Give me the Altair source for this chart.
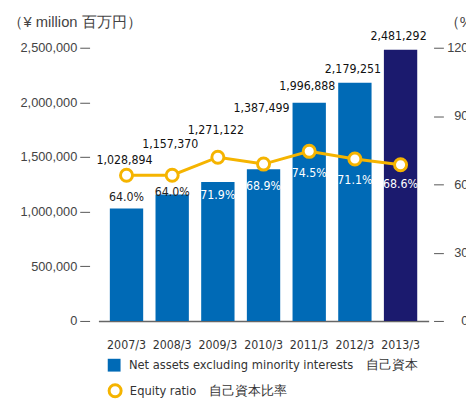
import altair as alt
import pandas as pd

# ---- data ----
years = ["2007/3", "2008/3", "2009/3", "2010/3", "2011/3", "2012/3", "2013/3"]
net_assets = [1028894, 1157370, 1271122, 1387499, 1996888, 2179251, 2481292]
equity_ratio = [64.0, 64.0, 71.9, 68.9, 74.5, 71.1, 68.6]

NA_NAME = "Net assets excluding minority interests\u3000自己資本"
EQ_NAME = "Equity ratio\u3000自己資本比率"
LATEST = "latest"

# ---- layout / style ----
W, H = 336, 278
LEFT_MAX, RIGHT_MAX = 2500000, 120
value_gap_px = [15, 32, 28, 57, 17, 14, 14]   # label lift above bar/point
pct_drop_px = [22, 17, 38, 22, 22, 21, 20]    # pct label drop below point
BLUE, NAVY, GOLD = "#006AB6", "#1B1A6E", "#F5B400"
FONT_AX = "Liberation Sans, Arial, sans-serif"
FONT_N = "DejaVu Sans Condensed, sans-serif"

df = pd.DataFrame({
    "year": years,
    "net": net_assets,
    "ratio": equity_ratio,
    "idx": list(range(len(years))),
    "kind": [NA_NAME] * (len(years) - 1) + [LATEST],
    "eq": [EQ_NAME] * len(years),
    "gap": value_gap_px,
    "drop": pct_drop_px,
})

lpx = LEFT_MAX / H
rpx = RIGHT_MAX / H

base = alt.Chart(df).transform_calculate(
    anchor=f"max(datum.net, datum.ratio / {RIGHT_MAX} * {LEFT_MAX})",
).transform_calculate(
    label_y=f"datum.anchor + datum.gap * {lpx}",
    pct_y=f"datum.ratio - datum.drop * {rpx}",
    net_txt="format(datum.net, ',')",
    pct_txt="format(datum.ratio, '.1f') + '%'",
)

x_enc = alt.X(
    "year:N", sort=years, title=None,
    scale=alt.Scale(paddingInner=0.27, paddingOuter=0.25),
    axis=alt.Axis(labelAngle=0, ticks=False, domainColor="#666", domainWidth=1.5,
                  labelPadding=18, labelFontSize=12.5, labelFont=FONT_N, labelColor="#333"),
)

left_axis = alt.Axis(
    orient="left", offset=9, domain=False, grid=False, tickSize=10, tickColor="#555",
    tickWidth=1, values=[0, 500000, 1000000, 1500000, 2000000, 2500000],
    labelExpr="format(datum.value, ',')",
    labelFont=FONT_AX, labelFontSize=13, labelColor="#444", labelPadding=3,
    title="（¥ million  百万円）", titleAngle=0, titleAlign="left", titleBaseline="middle",
    titleX=-83, titleY=-27, titleFont=FONT_AX, titleFontSize=15, titleFontWeight="normal",
    titleColor="#444",
)

right_axis = alt.Axis(
    orient="right", offset=5, domain=False, grid=False, tickSize=10, tickColor="#555",
    tickWidth=1, values=[0, 30, 60, 90, 120],
    labelFont=FONT_AX, labelFontSize=13, labelColor="#444", labelPadding=25,
    labelAlign="right",
    title="（%）", titleAngle=0, titleAlign="left", titleBaseline="middle",
    titleX=11, titleY=-27, titleFont=FONT_AX, titleFontSize=15, titleFontWeight="normal",
    titleColor="#444",
)


def lscale():
    return alt.Scale(domain=[0, LEFT_MAX], nice=False, zero=True)


def rscale():
    return alt.Scale(domain=[0, RIGHT_MAX], nice=False, zero=True)


bars = base.mark_bar().encode(
    x=x_enc,
    y=alt.Y("net:Q", scale=lscale(), axis=left_axis),
    color=alt.Color(
        "kind:N",
        scale=alt.Scale(domain=[NA_NAME, LATEST], range=[BLUE, NAVY]),
        legend=alt.Legend(
            orient="none", legendX=9, legendY=316, title=None, values=[NA_NAME],
            symbolType="square", symbolSize=170, symbolStrokeWidth=0,
            labelFont=FONT_N, labelFontSize=13, labelColor="#333", labelOffset=8,
            labelLimit=400, padding=0,
        ),
    ),
)

value_text = base.mark_text(font=FONT_N, fontSize=12.5, color="#111", baseline="middle", dx=-2).encode(
    x=x_enc,
    y=alt.Y("label_y:Q", scale=lscale(), axis=None),
    text="net_txt:N",
)

line = base.mark_line(color=GOLD, strokeWidth=3).encode(
    x=x_enc,
    y=alt.Y("ratio:Q", scale=rscale(), axis=right_axis),
)

points = base.mark_point(filled=True, fill="white", strokeWidth=3, size=150, opacity=1).encode(
    x=x_enc,
    y=alt.Y("ratio:Q", scale=rscale(), axis=None),
    stroke=alt.Stroke(
        "eq:N",
        scale=alt.Scale(domain=[EQ_NAME], range=[GOLD]),
        legend=alt.Legend(
            orient="none", legendX=9, legendY=341, title=None,
            symbolType="circle", symbolSize=150, symbolStrokeWidth=3,
            symbolFillColor="white",
            labelFont=FONT_N, labelFontSize=13, labelColor="#333", labelOffset=7,
            labelLimit=400, padding=0,
        ),
    ),
)

pct_text = base.mark_text(font=FONT_N, fontSize=12.5, baseline="middle").encode(
    x=x_enc,
    y=alt.Y("pct_y:Q", scale=rscale(), axis=None),
    text="pct_txt:N",
    color=alt.condition(alt.datum.idx < 2, alt.value("#222"), alt.value("white")),
)

chart = alt.layer(bars, value_text, line, points, pct_text).resolve_scale(
    y="independent", color="independent", stroke="independent"
).resolve_axis(y="independent").properties(
    width=W, height=H,
    padding={"left": 92, "top": 37, "right": 38, "bottom": 77},
    autosize=alt.AutoSizeParams(type="none"),
    background="white",
).configure_view(strokeWidth=0, stroke="transparent")

chart.save("out.html", embed_options={"renderer": "svg", "actions": False})
